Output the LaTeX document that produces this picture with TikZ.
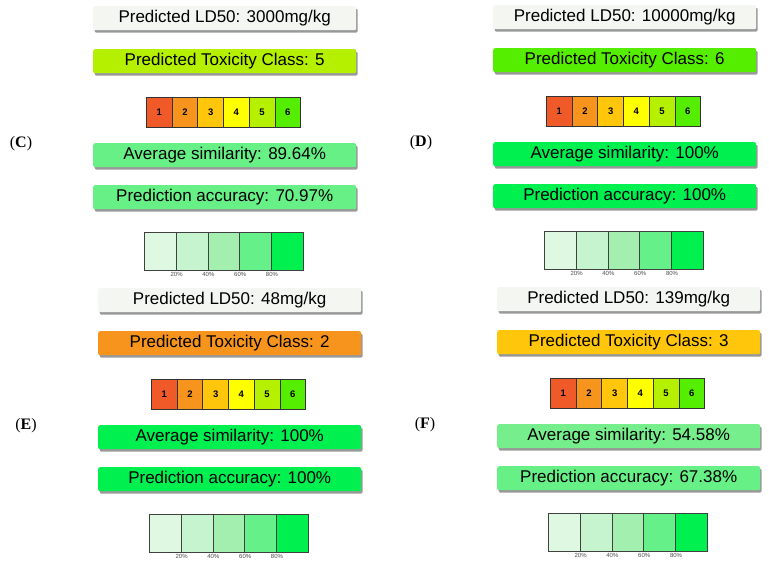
\documentclass[tikz,border=0pt]{standalone}
\usepackage{fontspec}
\setmainfont{Liberation Sans}
\newfontfamily\labfont{Liberation Serif}
\usetikzlibrary{shadows}
\definecolor{ldgray}{HTML}{F4F6F1}
\definecolor{tcA}{HTML}{F05A28}
\definecolor{tcB}{HTML}{F7941D}
\definecolor{tcC}{HTML}{FFC60B}
\definecolor{tcD}{HTML}{FFFF00}
\definecolor{tcE}{HTML}{B4F000}
\definecolor{tcF}{HTML}{55EE00}
\definecolor{simlo}{HTML}{77EE8C}
\definecolor{simmid}{HTML}{66F085}
\definecolor{simhi}{HTML}{00F050}
\definecolor{brA}{HTML}{DFF8E2}
\definecolor{brB}{HTML}{C6F4CE}
\definecolor{brC}{HTML}{A2EFB0}
\definecolor{brD}{HTML}{66F08A}
\definecolor{brE}{HTML}{00F050}
\tikzset{infobox/.style={anchor=north west,minimum width=263pt,minimum height=24pt,inner sep=0,rounded corners=2pt,
  drop shadow={shadow xshift=1.5pt,shadow yshift=-2.5pt,fill=black,opacity=0.4},font=\fontsize{17}{17}\selectfont}}
\tikzset{clscell/.style={draw=black!80,line width=0.8pt,anchor=north west,minimum width=25.7pt,minimum height=30pt,inner sep=0,font=\fontsize{9.5}{9.5}\selectfont\bfseries}}
\tikzset{barcell/.style={draw=black!75,line width=0.8pt,anchor=north west,minimum width=31.8pt,minimum height=38pt,inner sep=0}}
\tikzset{pctlbl/.style={font=\fontsize{6}{6}\selectfont,text=black!70,inner sep=0}}
\tikzset{panlbl/.style={font=\labfont\fontsize{16}{16}\selectfont}}
\begin{document}
\begin{tikzpicture}[x=1pt,y=-1pt]
\useasboundingbox[fill=white] (0,0) rectangle (769,570);
\foreach \p/\ox/\oy/\ld/\tx/\tcol/\av/\avcol/\ac/\accol in {
  C/93/6/3000/5/tcE/89.64/simmid/70.97/simmid,
  D/493/5/10000/6/tcF/100/simhi/100/simhi,
  E/98/288/48/2/tcB/100/simhi/100/simhi,
  F/497/287/139/3/tcC/54.58/simlo/67.38/simmid}{
  \begin{scope}[shift={(\ox,\oy)}]
    \node[panlbl] (\p-lab) at (-72,138) {(\textbf{\p})};
    \node[infobox,fill=ldgray] (\p-ld) at (0,0) {Predicted LD50: \ld mg/kg};
    \node[infobox,fill=\tcol] (\p-tox) at (0,43) {Predicted Toxicity Class: \tx};
    \foreach \i/\c in {1/tcA,2/tcB,3/tcC,4/tcD,5/tcE,6/tcF}
      \node[clscell,fill=\c] (\p-cls\i) at ({53+(\i-1)*25.7},91) {\i};
    \node[infobox,fill=\avcol] (\p-avg) at (0,137) {Average similarity: \av\%};
    \node[infobox,fill=\accol] (\p-acc) at (0,179) {Prediction accuracy: \ac\%};
    \foreach \i/\c in {1/brA,2/brB,3/brC,4/brD,5/brE}
      \node[barcell,fill=\c] (\p-bar\i) at ({51+(\i-1)*31.8},226) {};
    \foreach \i/\q in {1/20,2/40,3/60,4/80}
      \node[pctlbl,below=1.5pt] at (\p-bar\i.south east) {\q\%};
  \end{scope}
}
\end{tikzpicture}
\end{document}
